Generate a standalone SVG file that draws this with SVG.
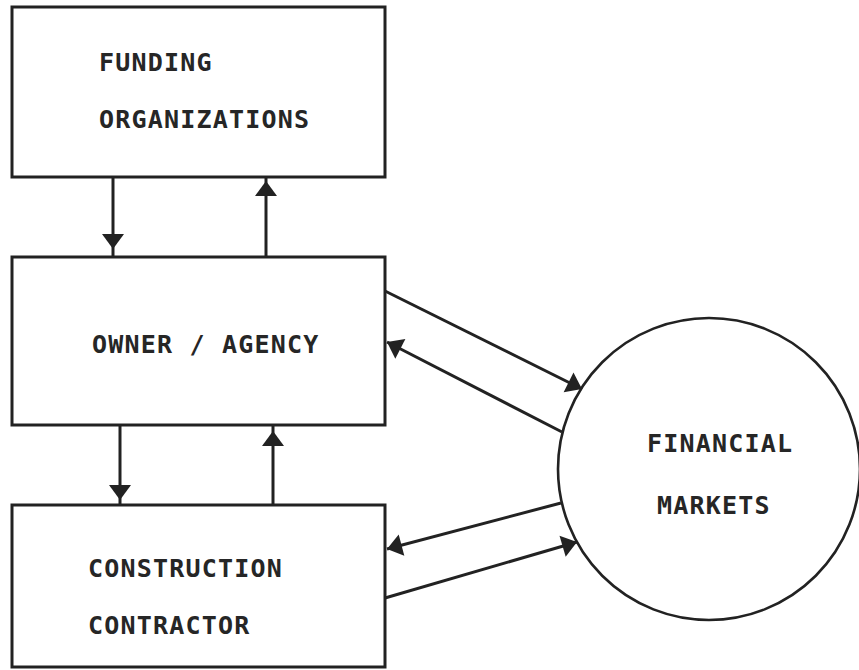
<svg xmlns="http://www.w3.org/2000/svg" width="859" height="670" viewBox="0 0 859 670">
  <style>
    .box { fill: #ffffff; stroke: #222222; stroke-width: 3; }
    .ring { fill: #ffffff; stroke: #222222; stroke-width: 2.6; }
    .lbl { font-family: "DejaVu Sans Mono", "Liberation Mono", monospace; font-weight: bold; font-size: 25px; letter-spacing: 1.2px; fill: #262626; }
    .link { fill: none; stroke: #222222; stroke-width: 3; }
    .v { marker-mid: url(#head); }
    .d { marker-end: url(#head); }
  </style>
  <defs>
    <marker id="head" markerUnits="userSpaceOnUse" viewBox="-17 -12 19 24" refX="0" refY="0" markerWidth="19" markerHeight="24" orient="auto">
      <path d="M0,0 L-15,-11 L-15,11 Z" fill="#222222"/>
    </marker>
  </defs>
  <rect width="859" height="670" fill="#ffffff"/>

  <g id="funding-organizations">
    <rect class="box" x="12" y="7" width="373" height="170"/>
    <text class="lbl" x="99" y="71">FUNDING</text>
    <text class="lbl" x="99" y="128">ORGANIZATIONS</text>
  </g>

  <g id="owner-agency">
    <rect class="box" x="12" y="257" width="373" height="168"/>
    <text class="lbl" x="92" y="353">OWNER / AGENCY</text>
  </g>

  <g id="construction-contractor">
    <rect class="box" x="12" y="505" width="373" height="162"/>
    <text class="lbl" x="88" y="577">CONSTRUCTION</text>
    <text class="lbl" x="88" y="634">CONTRACTOR</text>
  </g>

  <g id="financial-markets">
    <circle class="ring" cx="709" cy="469" r="151"/>
    <text class="lbl" x="647" y="452">FINANCIAL</text>
    <text class="lbl" x="657" y="514">MARKETS</text>
  </g>

  <g id="connectors">
    <!-- funding <-> owner -->
    <path class="link v" d="M113,177 V249 V257"/>
    <path class="link v" d="M266,257 V181 V177"/>
    <!-- owner <-> contractor -->
    <path class="link v" d="M120,425 V500 V505"/>
    <path class="link v" d="M273,505 V431 V425"/>
    <!-- owner <-> financial markets -->
    <path class="link d" d="M385,291 L582,389"/>
    <path class="link d" d="M562,432 L387,342"/>
    <!-- contractor <-> financial markets -->
    <path class="link d" d="M561,503 L387,549"/>
    <path class="link d" d="M385,598 L577,542"/>
  </g>
</svg>
